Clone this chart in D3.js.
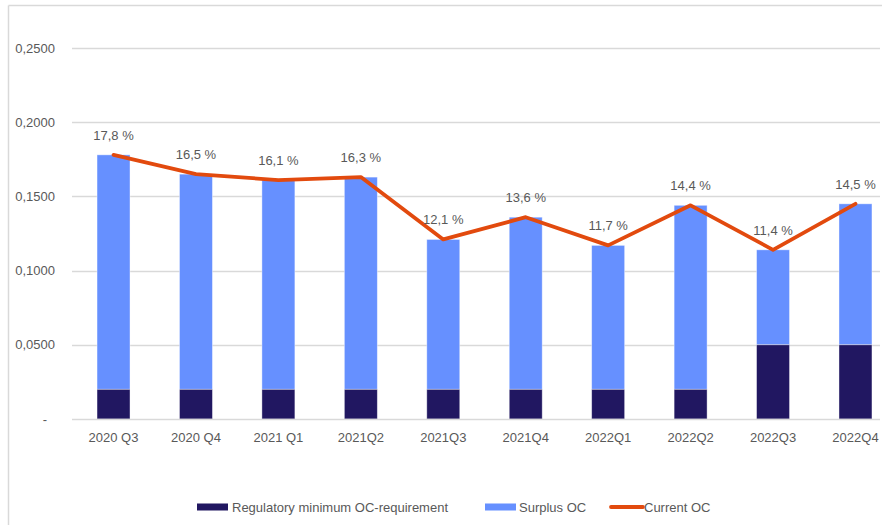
<!DOCTYPE html>
<html>
<head>
<meta charset="utf-8">
<script src="https://cdn.jsdelivr.net/npm/d3@7"></script>
<style>
  html, body { margin: 0; padding: 0; background: #fff; }
  svg { display: block; font-family: "Liberation Sans", Arial, sans-serif; }
</style>
</head>
<body>
<svg id="chart" width="882" height="525"></svg>
<script>
const categories = ["2020 Q3", "2020 Q4", "2021 Q1", "2021Q2", "2021Q3", "2021Q4", "2022Q1", "2022Q2", "2022Q3", "2022Q4"];
const regulatoryMin = [0.02, 0.02, 0.02, 0.02, 0.02, 0.02, 0.02, 0.02, 0.05, 0.05];
const currentOC = [0.178, 0.165, 0.161, 0.163, 0.121, 0.136, 0.117, 0.144, 0.114, 0.145];
const surplusOC = currentOC.map((v, i) => v - regulatoryMin[i]);
const yTicks = [0, 0.05, 0.10, 0.15, 0.20, 0.25];
const seriesNames = ["Regulatory minimum OC-requirement", "Surplus OC", "Current OC"];
const colors = { reg: "#211761", surplus: "#6690FF", line: "#E24A0E" };

const svg = d3.select("#chart");
const textColor = "#595959";
const gridColor = "#d9d9d9";

// chart border (left and top visible)
svg.append("line").attr("x1", 8.5).attr("x2", 8.5).attr("y1", 5.5).attr("y2", 525).attr("stroke", gridColor).attr("stroke-width", 1.5);
svg.append("line").attr("x1", 8.5).attr("x2", 882).attr("y1", 5.5).attr("y2", 5.5).attr("stroke", gridColor).attr("stroke-width", 1.5);

const x = d3.scaleBand().domain(categories).range([72.3, 896.7]).paddingInner(0.6).paddingOuter(0.3);
const y = d3.scaleLinear().domain([0, 0.25]).range([419, 48]);

const gridRight = 880, gridLeft = 72;

// gridlines
svg.append("g").selectAll("line").data(yTicks.filter(t => t > 0)).join("line")
  .attr("x1", gridLeft).attr("x2", gridRight)
  .attr("y1", d => Math.round(y(d)) + 0.5).attr("y2", d => Math.round(y(d)) + 0.5)
  .attr("stroke", gridColor).attr("stroke-width", 1.3);

// y axis labels
const fmtY = d => d === 0 ? "-" : d3.format(".4f")(d).replace(".", ",");
const yAxis = d3.axisLeft(y).tickValues(yTicks).tickFormat(fmtY).tickSize(0).tickPadding(0);
const gy = svg.append("g").attr("transform", "translate(55,0)").call(yAxis);
gy.select(".domain").remove();
gy.selectAll("text").attr("fill", textColor).style("font-size", "13px")
  .style("font-family", "Liberation Sans, Arial, sans-serif")
  .attr("x", d => d === 0 ? -8 : 0);

// bars
const stacks = categories.map((c, i) => ({ c, reg: regulatoryMin[i], surplus: surplusOC[i] }));
const bars = svg.append("g");
bars.selectAll("rect.surplus").data(stacks).join("rect")
  .attr("class", "surplus")
  .attr("x", d => x(d.c)).attr("width", x.bandwidth())
  .attr("y", d => y(d.reg + d.surplus)).attr("height", d => y(d.reg) - y(d.reg + d.surplus))
  .attr("fill", colors.surplus).attr("stroke", "#ffffff").attr("stroke-opacity", 0.5).attr("stroke-width", 0.8);
bars.selectAll("rect.reg").data(stacks).join("rect")
  .attr("class", "reg")
  .attr("x", d => x(d.c)).attr("width", x.bandwidth())
  .attr("y", d => y(d.reg)).attr("height", d => y(0) - y(d.reg))
  .attr("fill", colors.reg).attr("stroke", "#ffffff").attr("stroke-opacity", 0.5).attr("stroke-width", 0.8);

// x axis line
svg.append("line").attr("x1", gridLeft).attr("x2", gridRight)
  .attr("y1", Math.round(y(0)) + 0.5).attr("y2", Math.round(y(0)) + 0.5)
  .attr("stroke", gridColor).attr("stroke-width", 1.3);

// x axis labels
const xAxis = d3.axisBottom(x).tickSize(0).tickPadding(0);
const gx = svg.append("g").attr("transform", "translate(0,442)").call(xAxis);
gx.select(".domain").remove();
gx.selectAll("text").attr("fill", textColor).style("font-size", "13px")
  .style("font-family", "Liberation Sans, Arial, sans-serif").attr("dy", 0);

// line
const cx = c => x(c) + x.bandwidth() / 2;
const line = d3.line().x((d, i) => cx(categories[i])).y(d => y(d));
svg.append("path").datum(currentOC).attr("d", line)
  .attr("fill", "none").attr("stroke", colors.line).attr("stroke-width", 3.8)
  .attr("stroke-linejoin", "round").attr("stroke-linecap", "round");

// data labels
const fmtPct = v => d3.format(".1f")(v * 100).replace(".", ",") + " %";
svg.append("g").selectAll("text").data(currentOC).join("text")
  .attr("x", (d, i) => cx(categories[i])).attr("y", d => y(d) - 15)
  .attr("text-anchor", "middle").attr("fill", textColor).style("font-size", "13px")
  .text(d => fmtPct(d));

// legend
const legend = svg.append("g").style("font-size", "13px");
const ly = 507;
legend.append("rect").attr("x", 197).attr("y", ly - 3.5).attr("width", 31).attr("height", 7).attr("fill", colors.reg);
legend.append("text").attr("x", 232).attr("y", ly + 4.5).attr("fill", textColor).text(seriesNames[0]);
legend.append("rect").attr("x", 485).attr("y", ly - 3.5).attr("width", 31).attr("height", 7).attr("fill", colors.surplus);
legend.append("text").attr("x", 519).attr("y", ly + 4.5).attr("fill", textColor).text(seriesNames[1]);
legend.append("line").attr("x1", 611).attr("x2", 643).attr("y1", ly).attr("y2", ly)
  .attr("stroke", colors.line).attr("stroke-width", 3.8).attr("stroke-linecap", "round");
legend.append("text").attr("x", 644).attr("y", ly + 4.5).attr("fill", textColor).text(seriesNames[2]);
</script>
</body>
</html>
